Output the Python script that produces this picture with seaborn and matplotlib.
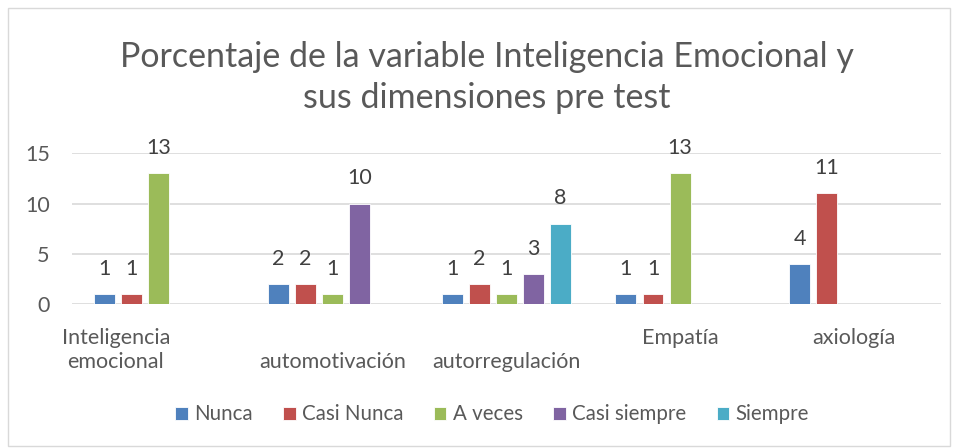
import pandas as pd
import numpy as np
import matplotlib
matplotlib.use("Agg")
import matplotlib.pyplot as plt
import matplotlib.transforms as mtransforms
from matplotlib.patches import Rectangle
import seaborn as sns

# data (blank cells have no bar)
categories = ["Inteligencia emocional", "automotivación", "autorregulación", "Empatía", "axiología"]
tick_labels = ["Inteligencia\nemocional", "\nautomotivación", "\nautorregulación", "Empatía", "axiología"]
series = ["Nunca", "Casi Nunca", "A veces", "Casi siempre", "Siempre"]
nunca = [1, 2, 1, 1, 4]
casi_nunca = [1, 2, 2, 1, 11]
a_veces = [13, 1, 1, 13, np.nan]
casi_siempre = [np.nan, 10, 3, np.nan, np.nan]
siempre = [np.nan, np.nan, 8, np.nan, np.nan]
colors = ["#4F81BD", "#C0504D", "#9BBB59", "#8064A2", "#4BACC6"]

wide = pd.DataFrame({"Categoria": categories, "Nunca": nunca, "Casi Nunca": casi_nunca,
                     "A veces": a_veces, "Casi siempre": casi_siempre, "Siempre": siempre})
df = wide.melt(id_vars="Categoria", var_name="Serie", value_name="Valor").dropna()

sns.set_theme(style="white")
plt.rcParams["font.family"] = ["Lato", "DejaVu Sans"]
text_col = "#595959"

fig = plt.figure(figsize=(9.59, 4.48), dpi=100)
ax = fig.add_axes([0.075, 0.321, 0.906, 0.337])

sns.barplot(data=df, x="Categoria", y="Valor", hue="Serie", order=categories,
            hue_order=series, palette=colors, width=0.78, gap=0.23,
            saturation=1, edgecolor="white", linewidth=0.6, ax=ax, legend=True)

for cont in ax.containers:
    ax.bar_label(cont, fmt="%d", padding=11, fontsize=15.5, color="#404040")

ax.set_ylim(0, 15)
ax.set_xlim(-0.5, 4.5)
ax.set_yticks([0, 5, 10, 15])
ax.yaxis.grid(True, color="#D9D9D9", linewidth=1.2)
ax.set_axisbelow(True)
for s in ax.spines.values():
    s.set_visible(False)
ax.set_xlabel("")
ax.set_ylabel("")
ax.tick_params(axis="y", length=0, pad=16, labelsize=15.5, labelcolor=text_col)
ax.tick_params(axis="x", length=0, pad=17, labelsize=15.5, labelcolor=text_col)
ax.set_xticks(range(len(categories)))
ax.set_xticklabels(tick_labels, linespacing=1.25)

# first category label sits left of its slot in the original
first = ax.get_xticklabels()[0]
first.set_transform(first.get_transform() + mtransforms.ScaledTranslation(-0.43, 0, fig.dpi_scale_trans))

fig.text(0.508, 0.827, "Porcentaje de la variable Inteligencia Emocional y\nsus dimensiones pre test",
         ha="center", va="center", fontsize=24.5, color=text_col, linespacing=1.32)

handles, labels = ax.get_legend_handles_labels()
ax.legend_.remove()
fig.legend(handles, labels, loc="center", bbox_to_anchor=(0.513, 0.075), ncol=5, frameon=False,
           fontsize=14.8, labelcolor=text_col, handlelength=0.6, handleheight=0.6,
           handletextpad=0.3, columnspacing=1.5)

fig.patches.append(Rectangle((8 / 959, 2 / 448), 942 / 959, 438 / 448, transform=fig.transFigure,
                             fill=False, edgecolor="#D9D9D9", linewidth=1))

fig.savefig("out.png", dpi=100)
